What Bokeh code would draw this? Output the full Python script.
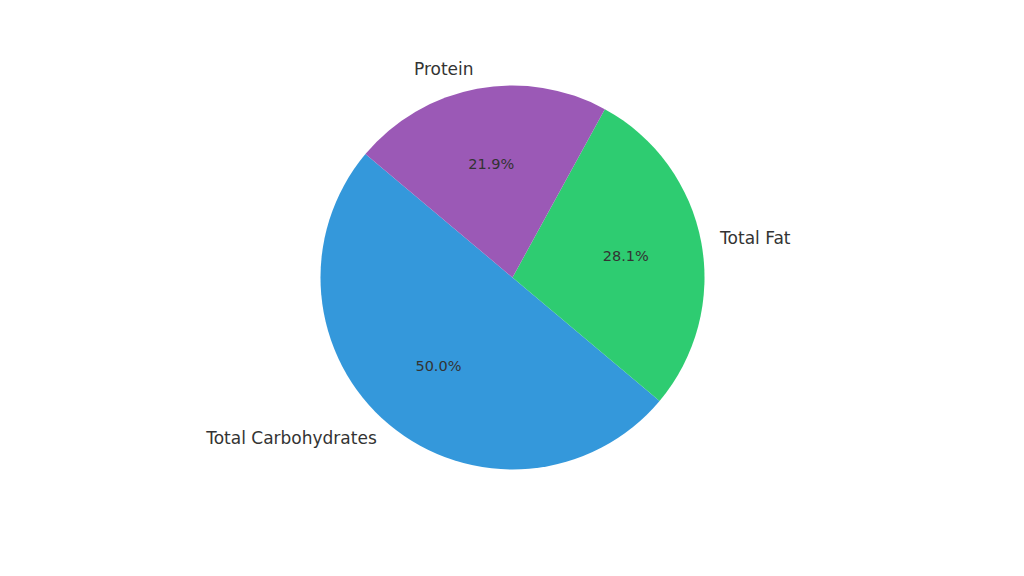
import math
from bokeh.plotting import figure
from bokeh.models import Range1d, ColumnDataSource
from bokeh.core.properties import value
from bokeh.embed import file_html
from bokeh.resources import INLINE

categories = ["Total Carbohydrates", "Total Fat", "Protein"]
amounts = [16, 9, 7]
colors = ["#3498db", "#2ecc71", "#9b59b6"]
start_deg = 140.0

total = sum(amounts)
starts, ends, lx, ly, px, py, aligns, pcts = [], [], [], [], [], [], [], []
a = math.radians(start_deg)
for v in amounts:
    span = 2 * math.pi * v / total
    s, e = a, a + span
    starts.append(s)
    ends.append(e)
    m = (s + e) / 2
    lx.append(1.1 * math.cos(m))
    ly.append(1.1 * math.sin(m))
    aligns.append("right" if math.cos(m) < 0 else "left")
    px.append(0.6 * math.cos(m))
    py.append(0.6 * math.sin(m))
    pcts.append(f"{100 * v / total:.1f}%")
    a = e

src = ColumnDataSource(dict(start=starts, end=ends, color=colors, lx=lx, ly=ly,
                            px=px, py=py, align=aligns, cat=categories, pct=pcts))

W, H = 1008, 560
cx, cy, R = 512, 277, 192.0
p = figure(width=W, height=H, output_backend="svg", toolbar_location=None,
           x_range=Range1d(-cx / R, (W - cx) / R),
           y_range=Range1d(-(H - cy) / R, cy / R),
           min_border=0)
p.axis.visible = False
p.grid.visible = False
p.outline_line_color = None

p.wedge(x=0, y=0, radius=1, start_angle="start", end_angle="end",
        direction="anticlock", fill_color="color", line_color=None, source=src)
p.text(x="lx", y="ly", text="cat", text_align="align", text_baseline="middle",
       text_font=value("DejaVu Sans"), text_font_size="17px", text_color="#333333",
       y_offset=-1, source=src)
p.text(x="px", y="py", text="pct", text_align="center", text_baseline="middle",
       text_font=value("DejaVu Sans"), text_font_size="14.5px", text_color="#333333", source=src)

open("out.html", "w").write(file_html(p, INLINE))
